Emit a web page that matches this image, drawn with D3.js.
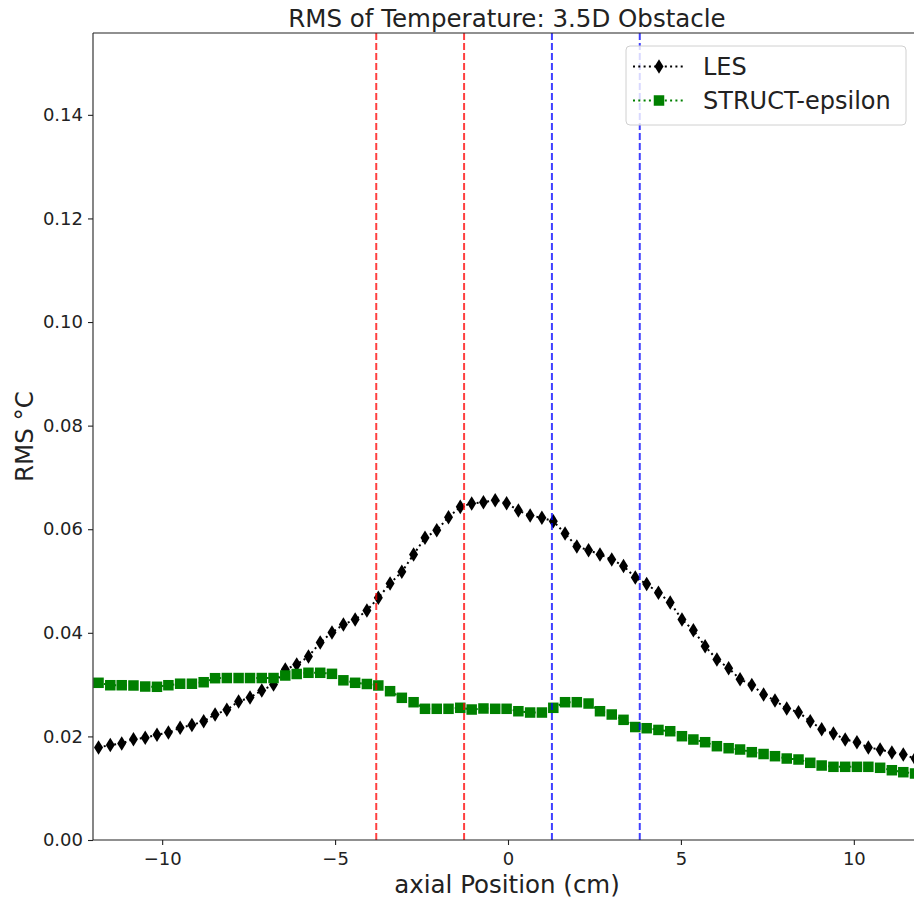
<!DOCTYPE html>
<html>
<head>
<meta charset="utf-8">
<script src="https://cdn.jsdelivr.net/npm/d3@7"></script>
<style>
  html, body { margin: 0; padding: 0; background: #fff; }
  svg { display: block; font-family: "DejaVu Sans", sans-serif; }
</style>
</head>
<body>
<svg id="chart" width="914" height="900"></svg>
<script>
// Axial sample positions (cm)
const positions = [
  -11.84, -11.50, -11.17, -10.83, -10.49, -10.15, -9.82, -9.48, -9.14, -8.80,
  -8.47, -8.13, -7.79, -7.46, -7.12, -6.78, -6.44, -6.11, -5.77, -5.43,
  -5.09, -4.76, -4.42, -4.08, -3.75, -3.41, -3.07, -2.73, -2.40, -2.06,
  -1.72, -1.38, -1.05, -0.71, -0.37, -0.04, 0.30, 0.64, 0.98, 1.31,
  1.65, 1.99, 2.33, 2.66, 3.00, 3.34, 3.68, 4.01, 4.35, 4.69,
  5.03, 5.36, 5.70, 6.04, 6.38, 6.71, 7.05, 7.39, 7.72, 8.06,
  8.40, 8.74, 9.07, 9.41, 9.75, 10.09, 10.42, 10.76, 11.10, 11.43,
  11.77
];

// RMS of temperature (°C), LES
const lesRms = [
  0.01786, 0.01834, 0.01863, 0.01946, 0.01973, 0.02031, 0.02075, 0.02166, 0.02220, 0.02293,
  0.02423, 0.02514, 0.02674, 0.02751, 0.02886, 0.03002, 0.03292, 0.03388, 0.03542, 0.03813,
  0.04006, 0.04160, 0.04257, 0.04431, 0.04676, 0.04952, 0.05178, 0.05511, 0.05834, 0.05981,
  0.06232, 0.06432, 0.06496, 0.06521, 0.06560, 0.06502, 0.06361, 0.06264, 0.06220, 0.06154,
  0.05917, 0.05666, 0.05595, 0.05512, 0.05415, 0.05290, 0.05068, 0.04942, 0.04772, 0.04585,
  0.04257, 0.04050, 0.03741, 0.03485, 0.03317, 0.03104, 0.02992, 0.02809, 0.02693, 0.02539,
  0.02467, 0.02293, 0.02139, 0.02056, 0.01940, 0.01888, 0.01786, 0.01747, 0.01689, 0.01651,
  0.01573
];

// RMS of temperature (°C), STRUCT-epsilon
const structRms = [
  0.03035, 0.02988, 0.02988, 0.02983, 0.02963, 0.02958, 0.02988, 0.03017, 0.03017, 0.03046,
  0.03124, 0.03127, 0.03127, 0.03127, 0.03127, 0.03127, 0.03176, 0.03205, 0.03228, 0.03228,
  0.03208, 0.03083, 0.03035, 0.03012, 0.02983, 0.02873, 0.02745, 0.02660, 0.02533, 0.02533,
  0.02533, 0.02552, 0.02519, 0.02539, 0.02533, 0.02533, 0.02486, 0.02461, 0.02461, 0.02552,
  0.02660, 0.02660, 0.02635, 0.02486, 0.02423, 0.02320, 0.02181, 0.02158, 0.02125, 0.02100,
  0.02004, 0.01940, 0.01888, 0.01811, 0.01772, 0.01747, 0.01695, 0.01660, 0.01618, 0.01573,
  0.01554, 0.01490, 0.01438, 0.01413, 0.01413, 0.01413, 0.01413, 0.01394, 0.01347, 0.01309,
  0.01284
];

// Obstacle edges (cm): upstream and downstream faces
const upstreamEdges = [-3.81, -1.27];
const downstreamEdges = [1.27, 3.81];

const xTicks = [-10, -5, 0, 5, 10];
const yTicks = [0, 0.02, 0.04, 0.06, 0.08, 0.10, 0.12, 0.14];

const seriesNames = ["LES", "STRUCT-epsilon"];

const svg = d3.select("#chart");
const plot = { left: 93, right: 923, top: 33, bottom: 840 };

const x = d3.scaleLinear().domain([-12, 12]).range([plot.left, plot.right]);
const y = d3.scaleLinear().domain([0, 0.1558]).range([plot.bottom, plot.top]);

svg.append("defs").append("clipPath").attr("id", "plot-clip")
  .append("rect")
  .attr("x", plot.left).attr("y", plot.top)
  .attr("width", plot.right - plot.left).attr("height", plot.bottom - plot.top);

const layer = svg.append("g").attr("clip-path", "url(#plot-clip)");

const diamond = (cx, cy, hw, hh) =>
  `M${cx},${cy - hh}L${cx + hw},${cy}L${cx},${cy + hh}L${cx - hw},${cy}Z`;

const line = d3.line().x(d => x(d[0])).y(d => y(d[1]));
const dotted = "2,3.3";

const lesData = positions.map((p, i) => [p, lesRms[i]]);
const structData = positions.map((p, i) => [p, structRms[i]]);

// LES: dotted line with thin diamonds
layer.append("path").datum(lesData)
  .attr("d", line)
  .attr("fill", "none").attr("stroke", "black")
  .attr("stroke-width", 2).attr("stroke-dasharray", dotted);
layer.append("g").selectAll("path").data(lesData).join("path")
  .attr("d", d => diamond(x(d[0]), y(d[1]), 4.5, 7.3))
  .attr("fill", "black");

// STRUCT-epsilon: dotted line with squares
const sq = 10.5;
layer.append("path").datum(structData)
  .attr("d", line)
  .attr("fill", "none").attr("stroke", "green")
  .attr("stroke-width", 2).attr("stroke-dasharray", dotted);
layer.append("g").selectAll("rect").data(structData).join("rect")
  .attr("x", d => x(d[0]) - sq / 2).attr("y", d => y(d[1]) - sq / 2)
  .attr("width", sq).attr("height", sq)
  .attr("fill", "green");

// Obstacle edges
const edgeLines = [
  ...upstreamEdges.map(v => ({ v, c: "red" })),
  ...downstreamEdges.map(v => ({ v, c: "blue" }))
];
layer.append("g").selectAll("line").data(edgeLines).join("line")
  .attr("x1", d => x(d.v)).attr("x2", d => x(d.v))
  .attr("y1", plot.top).attr("y2", plot.bottom)
  .attr("stroke", d => d.c).attr("stroke-opacity", 0.75)
  .attr("stroke-width", 2).attr("stroke-dasharray", "7,3");

// Axes
const xAxis = svg.append("g")
  .attr("transform", `translate(0,${plot.bottom})`)
  .call(d3.axisBottom(x).tickValues(xTicks).tickFormat(d3.format("d"))
    .tickSize(5).tickPadding(7));
const yAxis = svg.append("g")
  .attr("transform", `translate(${plot.left},0)`)
  .call(d3.axisLeft(y).tickValues(yTicks).tickFormat(d3.format(".2f"))
    .tickSize(5).tickPadding(5));

[xAxis, yAxis].forEach(a => {
  a.select(".domain").remove();
  a.selectAll(".tick line").attr("stroke", "#222").attr("stroke-width", 1.1);
  a.selectAll(".tick text").attr("fill", "#222")
    .style("font-family", "DejaVu Sans").style("font-size", "18px");
});

// Spines
const spine = svg.append("g").attr("stroke", "#222").attr("stroke-width", 1.1).attr("fill", "none");
spine.append("line").attr("x1", plot.left).attr("x2", plot.left).attr("y1", plot.top).attr("y2", plot.bottom);
spine.append("line").attr("x1", plot.left).attr("x2", plot.right).attr("y1", plot.bottom).attr("y2", plot.bottom);
spine.append("line").attr("x1", plot.left).attr("x2", plot.right).attr("y1", plot.top).attr("y2", plot.top);
spine.append("line").attr("x1", plot.right).attr("x2", plot.right).attr("y1", plot.top).attr("y2", plot.bottom);

// Title and axis labels
svg.append("text")
  .attr("x", (plot.left + plot.right) / 2 - 1).attr("y", 27)
  .attr("text-anchor", "middle").attr("fill", "#222")
  .style("font-size", "24.5px")
  .text("RMS of Temperature: 3.5D Obstacle");

svg.append("text")
  .attr("x", (plot.left + plot.right) / 2 - 1).attr("y", 893)
  .attr("text-anchor", "middle").attr("fill", "#222")
  .style("font-size", "24.5px")
  .text("axial Position (cm)");

svg.append("text")
  .attr("transform", `translate(33,${(plot.top + plot.bottom) / 2}) rotate(-90)`)
  .attr("text-anchor", "middle").attr("fill", "#222")
  .style("font-size", "24.5px")
  .text("RMS °C");

// Legend
const legend = svg.append("g");
legend.append("rect")
  .attr("x", 626).attr("y", 46).attr("width", 280).attr("height", 79)
  .attr("rx", 4).attr("ry", 4)
  .attr("fill", "white").attr("fill-opacity", 0.8)
  .attr("stroke", "#d0d0d0").attr("stroke-width", 1);

const rows = [
  { name: seriesNames[0], color: "black", cy: 66.5, mark: "diamond" },
  { name: seriesNames[1], color: "green", cy: 100.5, mark: "square" }
];
rows.forEach(r => {
  legend.append("line")
    .attr("x1", 633).attr("x2", 684).attr("y1", r.cy).attr("y2", r.cy)
    .attr("stroke", r.color).attr("stroke-width", 2).attr("stroke-dasharray", dotted);
  if (r.mark === "diamond") {
    legend.append("path").attr("d", diamond(659, r.cy, 4.5, 7.3)).attr("fill", r.color);
  } else {
    legend.append("rect").attr("x", 659 - sq / 2).attr("y", r.cy - sq / 2)
      .attr("width", sq).attr("height", sq).attr("fill", r.color);
  }
  legend.append("text")
    .attr("x", 703).attr("y", r.cy + 8.5)
    .attr("fill", "#222").style("font-size", "24px")
    .text(r.name);
});
</script>
</body>
</html>
